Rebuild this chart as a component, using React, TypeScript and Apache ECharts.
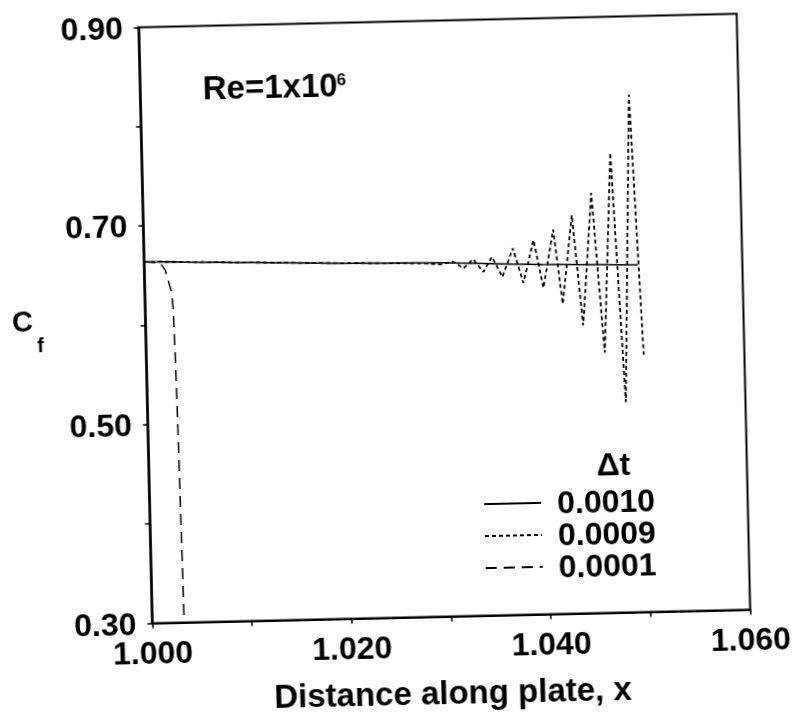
import React, { useEffect, useRef } from 'react';
import * as echarts from 'echarts';

// Distance along plate (x) and skin friction (Cf) values
const xSolid = [1.0, 1.01, 1.02, 1.03, 1.04, 1.0495];
const ySolid = [0.664, 0.661, 0.658, 0.656, 0.652, 0.6495];

const xDotted = [1.0, 1.01, 1.02, 1.028, 1.0297, 1.031, 1.032, 1.033, 1.034, 1.0349, 1.0359, 1.037, 1.038, 1.0391, 1.04, 1.0411, 1.0419, 1.043, 1.0439, 1.045, 1.046, 1.047, 1.048, 1.049, 1.0499];
const yDotted = [0.664, 0.661, 0.658, 0.656, 0.6545, 0.657, 0.65, 0.659, 0.646, 0.661, 0.6405, 0.669, 0.634, 0.677, 0.6285, 0.687, 0.612, 0.701, 0.59, 0.723, 0.562, 0.763, 0.512, 0.821, 0.559];

const xDashed = [1.0, 1.0016, 1.0021, 1.0027, 1.0028, 1.0029, 1.003, 1.0032];
const yDashed = [0.664, 0.6625, 0.655, 0.632, 0.617, 0.574, 0.504, 0.3];

const seriesNames = ['0.0010', '0.0009', '0.0001'];
const xLabelValues = [1.0, 1.02, 1.04, 1.06];
const yLabelValues = [0.3, 0.5, 0.7, 0.9];

const F = "'Liberation Sans', Arial, Helvetica, sans-serif";

const zip = (xs: number[], ys: number[]) => xs.map((x, i) => [x, ys[i]]);

export default function App() {
  const ref = useRef<HTMLDivElement>(null);
  useEffect(() => {
    const chart = echarts.init(ref.current!, null, { renderer: 'svg' });
    const option: any = {
      animation: false,
      backgroundColor: '#fff',
      grid: {
        left: 145.5, top: 20.5, width: 598, height: 596,
        show: true, borderColor: '#000', borderWidth: 2, containLabel: false,
      },
      xAxis: {
        type: 'value', min: 1.0, max: 1.06, interval: 0.01,
        name: 'Distance along plate, x', nameLocation: 'middle', nameGap: 59,
        nameTextStyle: { fontSize: 33, fontWeight: 'bold', color: '#000', fontFamily: F },
        axisLine: { show: true, lineStyle: { color: '#000', width: 2 } },
        axisTick: { show: true, inside: false, length: 5, lineStyle: { color: '#000', width: 1.5 } },
        splitLine: { show: false },
        axisLabel: {
          margin: 13, fontSize: 32, fontWeight: 'bold', color: '#000', fontFamily: F,
          formatter: (v: number) => (xLabelValues.some((t) => Math.abs(t - v) < 1e-6) ? v.toFixed(3) : ''),
        },
      },
      yAxis: {
        type: 'value', min: 0.3, max: 0.9, interval: 0.1,
        axisLine: { show: true, lineStyle: { color: '#000', width: 2.5 } },
        axisTick: { show: true, inside: false, length: 5, lineStyle: { color: '#000', width: 1.5 } },
        splitLine: { show: false },
        axisLabel: {
          margin: 16, fontSize: 32, fontWeight: 'bold', color: '#000', fontFamily: F,
          formatter: (v: number) => (yLabelValues.some((t) => Math.abs(t - v) < 1e-6) ? v.toFixed(2) : ''),
        },
      },
      legend: {
        data: seriesNames, orient: 'vertical', left: 479, top: 489, padding: 0, itemGap: 0,
        itemWidth: 57, itemHeight: 29.5, selectedMode: false,
        itemStyle: { opacity: 0, borderWidth: 0 },
        lineStyle: { opacity: 1 },
        textStyle: { fontSize: 32, fontWeight: 'bold', color: '#000', fontFamily: F, lineHeight: 29.5, padding: [0, 0, 0, 11] },
      },
      graphic: [
        { type: 'text', x: 208, y: 82, style: { text: 'Re=1x10', fontSize: 33, fontWeight: 'bold', fontFamily: F, fill: '#000', align: 'left', verticalAlign: 'middle' } },
        { type: 'text', x: 342, y: 77, style: { text: '6', fontSize: 17, fontWeight: 'bold', fontFamily: F, fill: '#000', align: 'left', verticalAlign: 'middle' } },
        { type: 'text', x: 610, y: 467.5, style: { text: 'Δt', fontSize: 32, fontWeight: 'bold', fontFamily: F, fill: '#000', align: 'center', verticalAlign: 'middle' } },
        { type: 'text', x: 12, y: 311.5, style: { text: 'C', fontSize: 29, fontWeight: 'bold', fontFamily: F, fill: '#000', align: 'left', verticalAlign: 'middle' } },
        { type: 'text', x: 40, y: 336, style: { text: 'f', fontSize: 20, fontWeight: 'bold', fontFamily: F, fill: '#000', align: 'center', verticalAlign: 'middle' } },
      ],
      series: [
        {
          name: seriesNames[1], type: 'line', symbol: 'none', data: zip(xDotted, yDotted), z: 2,
          lineStyle: { color: '#000', width: 1.8, type: [4, 3] }, itemStyle: { color: '#000' },
        },
        {
          name: seriesNames[2], type: 'line', symbol: 'none', data: zip(xDashed, yDashed), z: 2,
          lineStyle: { color: '#000', width: 1.5, type: [11, 7] }, itemStyle: { color: '#000' },
        },
        {
          name: seriesNames[0], type: 'line', symbol: 'none', data: zip(xSolid, ySolid), z: 3,
          lineStyle: { color: '#000', width: 1.5, type: 'solid' }, itemStyle: { color: '#000' },
        },
      ],
    };
    chart.setOption(option);
    return () => chart.dispose();
  }, []);
  return (
    <div
      ref={ref}
      style={{
        position: 'fixed', left: 0, top: 0, width: 793, height: 715,
        transform: 'rotate(-1.3deg)', transformOrigin: '444.5px 318.5px', background: '#fff',
      }}
    />
  );
}
